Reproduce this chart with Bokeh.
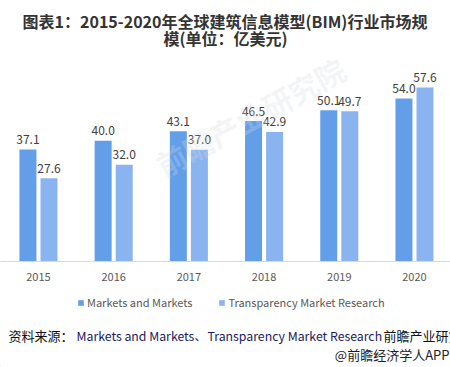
from bokeh.plotting import figure
from bokeh.layouts import column
from bokeh.models import (ColumnDataSource, Range1d, FixedTicker, Label,
                          Legend, LegendItem)
from bokeh.core.properties import value
from bokeh.embed import file_html
from bokeh.resources import INLINE

years = ["2015", "2016", "2017", "2018", "2019", "2020"]
mm = [37.1, 40.0, 43.1, 46.5, 50.1, 54.0]
tmr = [27.6, 32.0, 37.0, 42.9, 49.7, 57.6]
series_names = ["Markets and Markets", "Transparency Market Research"]

FONT = "Noto Sans CJK SC"
C1 = "#629FE8"
C2 = "#8AB4F0"

idx = list(range(len(years)))
src1 = ColumnDataSource(dict(x=[i - 0.14 for i in idx], top=mm,
                             lab=["%.1f" % v for v in mm]))
src2 = ColumnDataSource(dict(x=[i + 0.14 for i in idx], top=tmr,
                             lab=["%.1f" % v for v in tmr]))

# ---------------- main chart ----------------
p = figure(frame_width=450, frame_height=261, output_backend="svg",
           toolbar_location=None,
           x_range=Range1d(-0.505, 5.479), y_range=Range1d(0, 86.4),
           min_border_left=0, min_border_right=0, min_border_top=0,
           min_border_bottom=24)
p.outline_line_color = None
p.grid.visible = False
p.yaxis.visible = False

# watermark
p.add_layout(Label(x=250, y=145, x_units="screen", y_units="screen",
                   text="前瞻产业研究院", angle=0.5, text_font=FONT,
                   text_font_size="30px", text_font_style="bold",
                   text_color="#d5dbe2", text_alpha=0.28,
                   text_align="center", text_baseline="middle"))

r1 = p.vbar(x="x", top="top", width=0.226, source=src1, color=C1, line_color=None)
r2 = p.vbar(x="x", top="top", width=0.226, source=src2, color=C2, line_color=None)

for s in (src1, src2):
    p.text(x="x", y="top", text="lab", source=s, y_offset=-10,
           text_align="center", text_baseline="alphabetic",
           text_font=value(FONT), text_font_size="12px", text_color="#404040")

xa = p.xaxis[0]
xa.ticker = FixedTicker(ticks=idx)
xa.major_label_overrides = {i: y for i, y in zip(idx, years)}
xa.major_tick_line_color = None
xa.minor_tick_line_color = None
xa.major_tick_out = 0
xa.major_tick_in = 0
xa.axis_line_color = "#d9d9d9"
xa.axis_line_width = 1
xa.major_label_standoff = 11
xa.major_label_text_font = FONT
xa.major_label_text_font_size = "11px"
xa.major_label_text_color = "#595959"

# title (inside the frame, frame-relative screen units)
p.add_layout(Label(x=224.5, y=241, x_units="screen", y_units="screen",
                   text="图表1：2015-2020年全球建筑信息模型(BIM)行业市场规",
                   text_font=FONT, text_font_size="16px", text_font_style="bold",
                   text_color="#333333", text_align="center", text_baseline="middle"))
p.add_layout(Label(x=225, y=224, x_units="screen", y_units="screen",
                   text="模(单位：亿美元)",
                   text_font=FONT, text_font_size="16px", text_font_style="bold",
                   text_color="#333333", text_align="center", text_baseline="middle"))

# ---------------- footer: legend and source ----------------
f = figure(frame_width=450, frame_height=82, output_backend="svg",
           toolbar_location=None, x_range=Range1d(0, 450), y_range=Range1d(0, 82),
           min_border_left=0, min_border_right=0, min_border_top=0,
           min_border_bottom=0)
f.outline_line_color = None
f.grid.visible = False
f.axis.visible = False

# legend swatches (off-screen proxies sharing the series colours)
e1 = f.vbar(x=[-100], top=[1], width=1, color=C1, line_color=None)
e2 = f.vbar(x=[-100], top=[1], width=1, color=C2, line_color=None)
legend = Legend(items=[LegendItem(label=series_names[0], renderers=[e1]),
                       LegendItem(label=series_names[1], renderers=[e2])],
                orientation="horizontal", location=(77, 55),
                glyph_width=7, glyph_height=7, label_standoff=3, spacing=26,
                padding=0, margin=0, border_line_color=None,
                background_fill_alpha=0,
                label_text_font=FONT, label_text_font_size="11px",
                label_text_color="#595959", label_height=20)
f.add_layout(legend, "center")

f.add_layout(Label(x=8, y=32, text="资料来源：", text_font=FONT,
                   text_font_size="13px", text_color="#111111",
                   text_baseline="middle"))
f.add_layout(Label(x=76, y=32, text="Markets and Markets",
                   text_font=FONT, text_font_size="12.3px",
                   text_color="#22205e", text_baseline="middle"))
f.add_layout(Label(x=194, y=32, text="、",
                   text_font=FONT, text_font_size="12px",
                   text_color="#22205e", text_baseline="middle"))
f.add_layout(Label(x=207, y=32, text="Transparency Market Research",
                   text_font=FONT, text_font_size="12.3px",
                   text_color="#22205e", text_baseline="middle"))
f.add_layout(Label(x=383, y=32, text="前瞻产业研究院", text_font=FONT,
                   text_font_size="13px", text_color="#111111",
                   text_baseline="middle"))
f.add_layout(Label(x=449, y=13, text="@前瞻经济学人APP", text_font=FONT,
                   text_font_size="13px", text_color="#222222",
                   text_align="right", text_baseline="middle"))

layout = column(p, f, spacing=0)
open("out.html", "w").write(file_html(layout, INLINE))
